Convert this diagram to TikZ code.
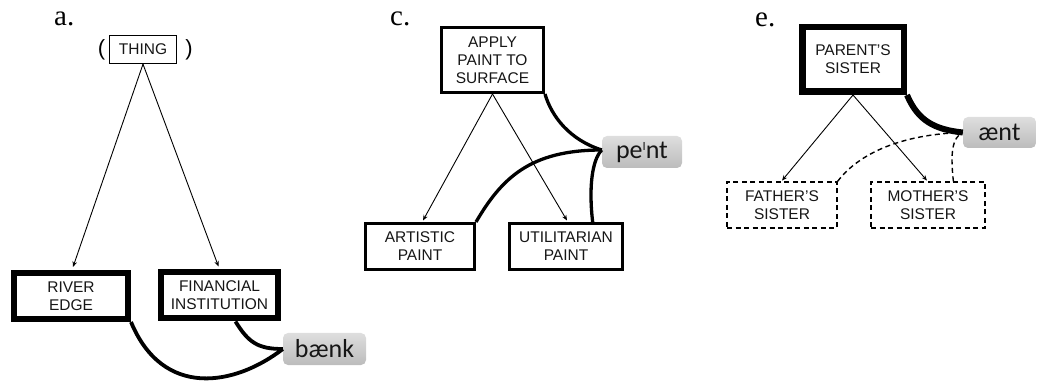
\documentclass[tikz,border=0pt]{standalone}
\usepackage{fontspec}
\setmainfont{Liberation Serif}
\setsansfont{Liberation Sans}
\newfontfamily\soundfont{Carlito}
\usetikzlibrary{arrows.meta,calc}

\definecolor{soundtop}{RGB}{222,222,222}
\definecolor{soundbot}{RGB}{188,188,188}
\definecolor{ink}{RGB}{22,22,22}

\begin{document}
\begin{tikzpicture}[x=1pt,y=-1pt,
  concept/.style={draw=black, fill=white, inner sep=0pt, align=center,
    font=\sffamily\fontsize{15.5}{18}\selectfont, text=ink},
  light box/.style={concept, line width=1.3pt},
  mid box/.style={concept, line width=3pt},
  heavy box/.style={concept, line width=6pt},
  dashed box/.style={concept, line width=1.4pt, dash pattern=on 5pt off 3.5pt},
  sound/.style={rounded corners=5pt, top color=soundtop, bottom color=soundbot,
    draw=none, inner sep=0pt, font=\soundfont\fontsize{26}{26}\selectfont, text=ink},
  panel/.style={font=\fontsize{29}{29}\selectfont, anchor=base west, inner sep=0pt},
  isa/.style={line width=0.9pt, -{Stealth[length=5.5pt,width=4.5pt]}},
  wordlink/.style={line width=3.8pt},
  thin wordlink/.style={line width=3.3pt},
  heavy link/.style={line width=6pt},
  weak link/.style={line width=1.4pt, dash pattern=on 5pt off 3.5pt},
]
\useasboundingbox (0,0) rectangle (1037,382);

% ---------- a. bank ----------
\node[panel] (la) at (54,26) {a.};
\node[light box, minimum width=66.5pt, minimum height=28pt] (thing) at (143,49.5) {THING};
\node[inner sep=0pt, font=\sffamily\fontsize{22}{22}\selectfont] (lpar) at (101.5,50) {(};
\node[inner sep=0pt, font=\sffamily\fontsize{22}{22}\selectfont] (rpar) at (189,50) {)};
\node[heavy box, minimum width=114pt, minimum height=46pt] (river) at (71,296) {RIVER\\EDGE};
\node[heavy box, minimum width=117pt, minimum height=46pt] (fin) at (219.5,295.5) {FINANCIAL\\INSTITUTION};
\node[sound, minimum width=83pt, minimum height=32pt] (bank) at (324.5,349) {bænk};

% arrows end on the outer edge of each border
\draw[isa] (thing.south) -- ([xshift=2pt,yshift=3pt]river.north);
\draw[isa] (thing.south) -- ([xshift=-1pt,yshift=3pt]fin.north);

\coordinate (finfoot) at ($(fin.south west)!0.63!(fin.south east)$);
\draw[wordlink] (finfoot) .. controls +(13,21) and +(-25,0) .. (bank.west);
\draw[wordlink] (river.south east) .. controls +(32,77) and +(-48,37) .. (bank.west);

% ---------- c. paint ----------
\node[panel] (lc) at (390,26) {c.};
\node[mid box, minimum width=102pt, minimum height=65pt] (apply) at (492.5,60) {APPLY\\PAINT TO\\SURFACE};
\node[mid box, minimum width=109pt, minimum height=46pt] (art) at (420,246.5) {ARTISTIC\\PAINT};
\node[mid box, minimum width=113pt, minimum height=46pt] (util) at (566,246.5) {UTILITARIAN\\PAINT};
\node[sound, minimum width=80pt, minimum height=32pt] (paint) at (642,152)
  {pe\raisebox{8pt}{\fontsize{12.5}{12}\selectfont I}nt};

\draw[isa] (apply.south) -- ([xshift=3pt,yshift=1.5pt]art.north);
\draw[isa] (apply.south) -- ([xshift=1pt,yshift=1.5pt]util.north);

\coordinate (paintport) at ([yshift=2pt]paint.west);
\coordinate (utilfoot) at ($(util.north west)!0.73!(util.north east)$);
\draw[thin wordlink] (apply.south east) .. controls +(6.5,22.5) and +(-32,-10) .. (paintport);
\draw[thin wordlink] (art.north east) .. controls +(25.5,-43.5) and +(-72,0) .. (paintport);
\draw[thin wordlink] (utilfoot) .. controls +(-4,-33.5) and +(-10,10) .. (paintport);

% ---------- e. aunt ----------
\node[panel] (le) at (755,27) {e.};
\node[heavy box, line width=6.5pt, minimum width=101.5pt, minimum height=64.5pt] (parent) at (853,59.5) {PARENT'S\\SISTER};
\node[dashed box, minimum width=110pt, minimum height=46pt] (father) at (782,205) {FATHER'S\\SISTER};
\node[dashed box, minimum width=114pt, minimum height=46pt] (mother) at (928,205) {MOTHER'S\\SISTER};
\node[sound, minimum width=73pt, minimum height=31pt] (aunt) at (999.5,132.5) {ænt};

\draw[isa] (parent.south) -- ([yshift=0.7pt]father.north);
\draw[isa] (parent.south) -- ([xshift=-1pt,yshift=0.7pt]mother.north);

\coordinate (motherfoot) at ($(mother.north west)!0.72!(mother.north east)$);
\draw[heavy link] (parent.south east) .. controls +(11,26) and +(-28,-3) .. (aunt.west);
\draw[weak link] (father.north east) .. controls +(18,-24) and +(-68,2) .. (aunt.west);
\draw[weak link] (motherfoot) .. controls +(-3,-27) and +(-11,5) .. (aunt.west);
\end{tikzpicture}
\end{document}
